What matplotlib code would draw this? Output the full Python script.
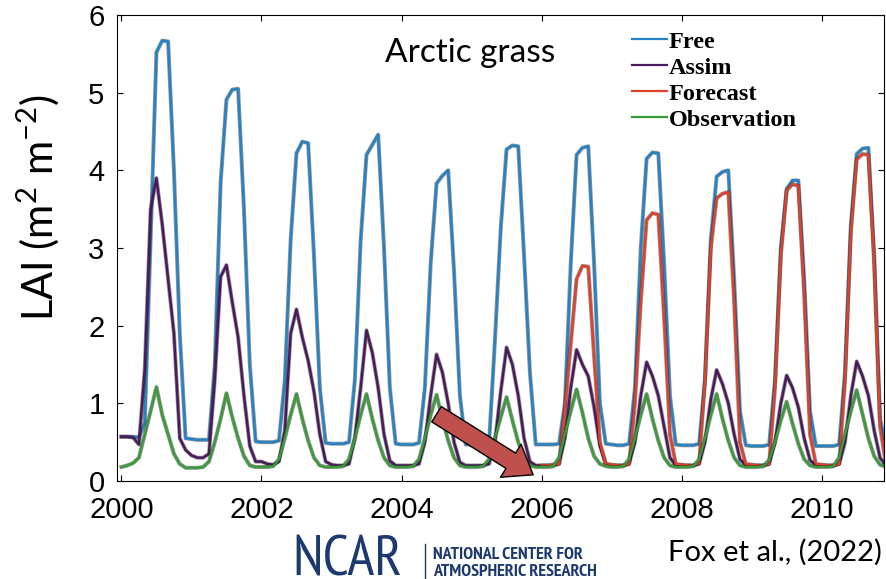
import numpy as np
import matplotlib
matplotlib.use("Agg")
import matplotlib.pyplot as plt
import matplotlib.patheffects as pe
from matplotlib.lines import Line2D
from matplotlib.patches import FancyArrowPatch, ArrowStyle
from matplotlib.font_manager import FontProperties, fontManager

# monthly LAI, one row per year (Jan..Dec), 2000-2010
free = [
    0.57, 0.57, 0.57, 0.56, 0.75, 3.10, 5.52, 5.67, 5.66, 4.00, 1.90, 0.55,
    0.54, 0.53, 0.53, 0.53, 1.50, 3.84, 4.91, 5.04, 5.05, 3.50, 1.50, 0.51,
    0.50, 0.50, 0.50, 0.52, 1.30, 3.10, 4.22, 4.37, 4.35, 2.90, 1.20, 0.49,
    0.48, 0.48, 0.48, 0.50, 1.30, 3.10, 4.20, 4.33, 4.46, 3.00, 1.20, 0.48,
    0.47, 0.47, 0.47, 0.49, 1.20, 2.80, 3.83, 3.93, 4.00, 2.70, 1.10, 0.47,
    0.47, 0.47, 0.47, 0.49, 1.80, 3.25, 4.27, 4.32, 4.31, 2.90, 1.40, 0.47,
    0.47, 0.47, 0.47, 0.48, 1.00, 2.80, 4.20, 4.29, 4.31, 2.80, 1.00, 0.48,
    0.47, 0.46, 0.46, 0.48, 1.20, 3.00, 4.15, 4.23, 4.22, 2.80, 1.10, 0.47,
    0.46, 0.46, 0.46, 0.48, 1.30, 3.10, 3.92, 3.98, 4.00, 2.60, 0.90, 0.46,
    0.45, 0.45, 0.45, 0.47, 1.30, 3.00, 3.76, 3.87, 3.87, 2.60, 0.90, 0.45,
    0.45, 0.45, 0.45, 0.47, 1.40, 3.30, 4.21, 4.28, 4.29, 2.90, 0.80, 0.45,
]
assim = [
    0.57, 0.57, 0.56, 0.47, 1.44, 3.49, 3.90, 3.30, 2.60, 1.90, 0.55, 0.40,
    0.33, 0.30, 0.30, 0.35, 1.30, 2.63, 2.78, 2.30, 1.85, 1.10, 0.45, 0.25,
    0.25, 0.22, 0.21, 0.25, 0.65, 1.90, 2.21, 1.85, 1.55, 1.15, 0.60, 0.25,
    0.21, 0.20, 0.20, 0.22, 0.55, 1.20, 1.94, 1.65, 1.20, 0.60, 0.26, 0.20,
    0.20, 0.20, 0.20, 0.22, 0.50, 1.10, 1.63, 1.40, 1.00, 0.50, 0.24, 0.20,
    0.20, 0.20, 0.20, 0.22, 0.50, 1.15, 1.72, 1.50, 1.10, 0.55, 0.25, 0.20,
    0.20, 0.20, 0.20, 0.22, 0.55, 1.20, 1.69, 1.50, 1.35, 0.95, 0.45, 0.22,
    0.20, 0.20, 0.20, 0.22, 0.50, 1.10, 1.53, 1.35, 1.10, 0.70, 0.30, 0.20,
    0.20, 0.20, 0.20, 0.22, 0.50, 1.05, 1.43, 1.25, 1.00, 0.60, 0.28, 0.20,
    0.20, 0.20, 0.20, 0.22, 0.50, 1.00, 1.36, 1.20, 0.95, 0.55, 0.27, 0.20,
    0.20, 0.20, 0.20, 0.22, 0.50, 1.10, 1.54, 1.35, 1.10, 0.65, 0.30, 0.20,
]
# forecast runs 2006-2010
forecast = [
    0.20, 0.20, 0.21, 0.22, 0.93, 1.76, 2.60, 2.77, 2.76, 1.60, 0.50, 0.22,
    0.21, 0.20, 0.20, 0.22, 1.00, 2.30, 3.36, 3.45, 3.43, 2.10, 0.60, 0.22,
    0.21, 0.20, 0.20, 0.23, 1.29, 3.00, 3.64, 3.70, 3.72, 2.30, 0.50, 0.22,
    0.21, 0.20, 0.20, 0.22, 1.20, 2.90, 3.74, 3.82, 3.80, 2.40, 0.60, 0.22,
    0.21, 0.20, 0.20, 0.22, 1.30, 3.20, 4.14, 4.21, 4.20, 2.80, 0.70, 0.22,
]
obs = [
    0.18, 0.20, 0.23, 0.30, 0.60, 0.90, 1.21, 0.85, 0.60, 0.35, 0.22, 0.17,
    0.17, 0.17, 0.18, 0.25, 0.50, 0.80, 1.13, 0.82, 0.55, 0.32, 0.20, 0.18,
    0.18, 0.18, 0.19, 0.28, 0.55, 0.85, 1.12, 0.80, 0.52, 0.30, 0.20, 0.18,
    0.18, 0.18, 0.19, 0.28, 0.55, 0.85, 1.12, 0.80, 0.52, 0.30, 0.20, 0.18,
    0.18, 0.18, 0.19, 0.28, 0.55, 0.85, 1.11, 0.80, 0.52, 0.30, 0.20, 0.18,
    0.18, 0.18, 0.19, 0.28, 0.55, 0.82, 1.08, 0.78, 0.50, 0.30, 0.20, 0.18,
    0.18, 0.18, 0.19, 0.30, 0.60, 0.90, 1.18, 0.88, 0.55, 0.32, 0.22, 0.19,
    0.18, 0.18, 0.19, 0.28, 0.55, 0.85, 1.12, 0.80, 0.52, 0.30, 0.20, 0.18,
    0.18, 0.18, 0.19, 0.28, 0.55, 0.85, 1.12, 0.80, 0.52, 0.30, 0.20, 0.18,
    0.18, 0.18, 0.19, 0.27, 0.50, 0.78, 1.02, 0.74, 0.48, 0.28, 0.20, 0.18,
    0.18, 0.18, 0.19, 0.30, 0.60, 0.90, 1.17, 0.86, 0.55, 0.32, 0.21, 0.18,
]
labels = ["Free", "Assim", "Forecast", "Observation"]
colors = ["#2383c6", "#4a1a5c", "#e2402a", "#3a9b3a"]
xticks = [2000, 2002, 2004, 2006, 2008, 2010]
yticks = [0, 1, 2, 3, 4, 5, 6]

t_all = 2000 + np.arange(len(free)) / 12
t_fc = 2006 + np.arange(len(forecast)) / 12


def narrow_font(bold=False):
    """Pick a condensed sans file if one is installed."""
    prefs = ["Narrow", "Condensed", "Cond"]
    for key in prefs:
        for f in fontManager.ttflist:
            fn = f.fname
            if key not in fn or "Italic" in fn or "Oblique" in fn:
                continue
            if "Sans" not in f.name and "Roboto" not in f.name:
                continue
            is_bold = f.weight in (700, "bold")
            if is_bold == bold:
                return FontProperties(fname=fn)
    return None


fig = plt.figure(figsize=(8.86, 5.79), dpi=100)
W, H = 886, 579
ax = fig.add_axes([117 / W, 1 - 481 / H, (884 - 117) / W, (481 - 15) / H])

outline = [pe.Stroke(linewidth=2.9, foreground="#1a1a1a", alpha=0.45), pe.Normal()]
ax.plot(t_all, free, color=colors[0], lw=1.8, path_effects=outline)
ax.plot(t_all, assim, color=colors[1], lw=1.8, path_effects=outline)
ax.plot(t_fc, forecast, color=colors[2], lw=1.8, path_effects=outline)
ax.plot(t_all, obs, color=colors[3], lw=1.8, path_effects=outline)

ax.set_xlim(1999.937, 2010.89)
ax.set_ylim(0, 6)
ax.set_xticks(xticks)
ax.set_yticks(yticks)
ax.tick_params(direction="in", top=True, right=True, length=4, width=0.8,
               labelsize=21)
ax.tick_params(axis="x", pad=11)
ax.tick_params(axis="y", pad=9)
for lab in ax.get_xticklabels() + ax.get_yticklabels():
    lab.set_fontfamily("Liberation Sans")
for s in ax.spines.values():
    s.set_linewidth(0.8)

# legend, laid out by hand to match the row spacing of the original
leg_font = FontProperties(family="Liberation Serif", weight="bold", size=17.5)
row_base = [48, 74, 100, 126]
for lab, col, yb in zip(labels, colors, row_base):
    fig.add_artist(Line2D([632 / W, 667 / W], [1 - (yb - 9) / H] * 2,
                          transform=fig.transFigure, color=col, lw=1.6))
    fig.text(669 / W, 1 - yb / H, lab, fontproperties=leg_font, va="baseline")

arrow = FancyArrowPatch(posA=(2004.50, 0.86), posB=(2005.88, 0.08),
                        arrowstyle=ArrowStyle.Simple(head_length=1.9, head_width=2.8, tail_width=1.3),
                        mutation_scale=10, shrinkA=0, shrinkB=0,
                        fc="#c0504d", ec="black", lw=1, zorder=10, clip_on=False)
ax.add_patch(arrow)

fig.text(385 / W, 1 - 62 / H, "Arctic grass", family="Lato", size=24, va="baseline")
plt.rcParams["mathtext.default"] = "regular"
fig.text(38 / W, 1 - 207 / H, "LAI (m$^{2}$ m$^{-2}$)", family="Lato", size=30,
         rotation=90, ha="center", va="center")

navy = "#1c3a6e"
reg = narrow_font(False)
bld = narrow_font(True)
if reg is None:
    big = dict(family="Liberation Sans", size=30)
else:
    big = dict(fontproperties=reg, size=41)
if bld is None:
    small = dict(family="Liberation Sans", weight="bold", size=8.5)
else:
    small = dict(fontproperties=bld, size=13)
fig.text(292 / W, 1 - 576 / H, "NCAR", color=navy, va="baseline", **big)
fig.add_artist(Line2D([425 / W, 425 / W], [1 - 544 / H, 1 - 578 / H],
                      transform=fig.transFigure, color=navy, lw=1))
fig.text(433 / W, 1 - 559 / H, "NATIONAL CENTER FOR", color=navy, va="baseline", **small)
fig.text(433 / W, 1 - 576 / H, "ATMOSPHERIC RESEARCH", color=navy, va="baseline", **small)
fig.text(668 / W, 1 - 561 / H, "Fox et al., (2022)", family="Lato", size=21, va="baseline")

fig.savefig("out.png", dpi=100)
